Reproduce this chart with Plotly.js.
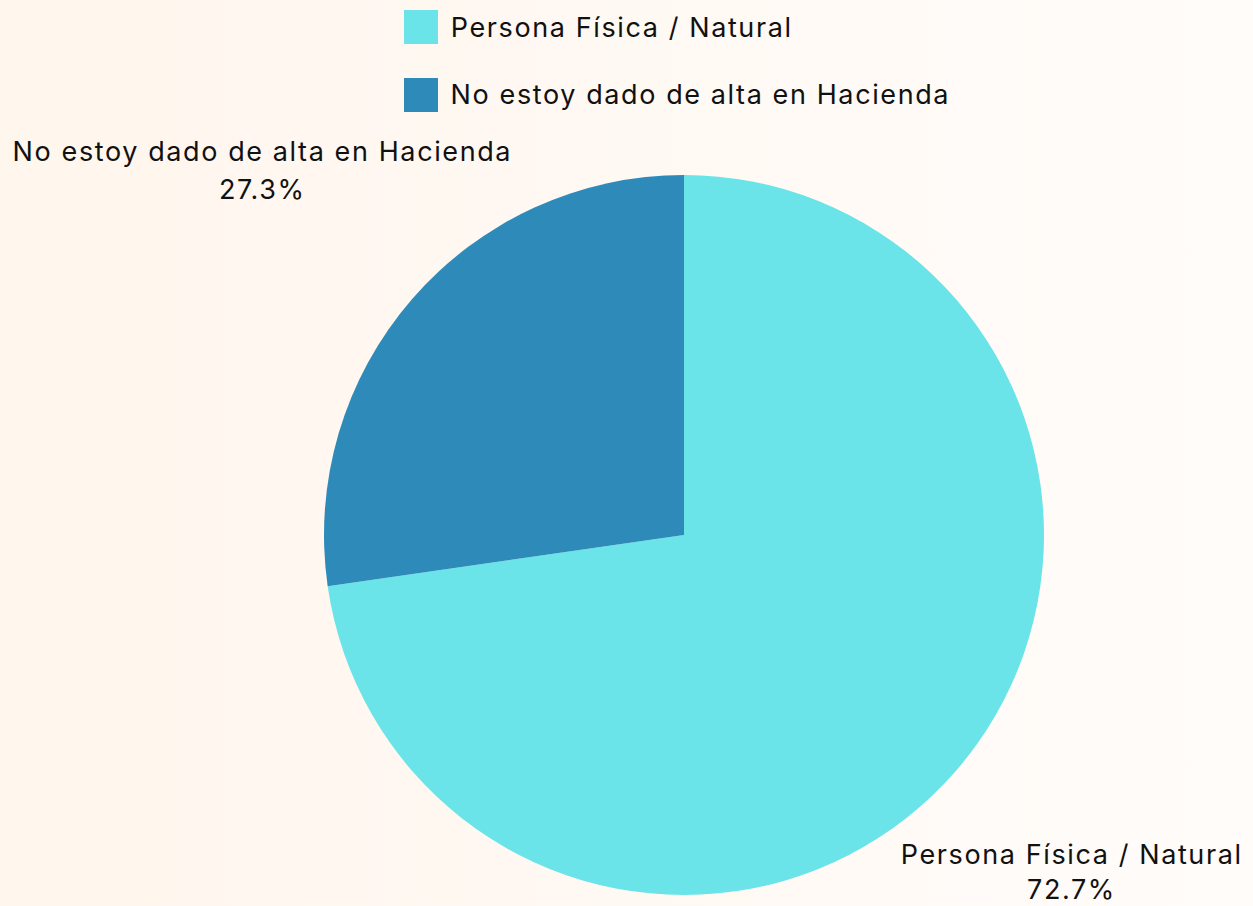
<!DOCTYPE html>
<html>
<head>
<meta charset="utf-8">
<script src="https://cdn.plot.ly/plotly-3.0.1.min.js"></script>
<style>
  html, body { margin: 0; padding: 0; }
  body { width: 1253px; height: 906px; background: linear-gradient(to right, #fff6ed, #fffcfa); }
  #chart { width: 1253px; height: 906px; }
  #chart .annotation-text { letter-spacing: 1.6px; }
</style>
</head>
<body>
<div id="chart"></div>
<script>
const categories = ["Persona Física / Natural", "No estoy dado de alta en Hacienda"];
const counts = [8, 3];
const colors = ["#6ae4e8", "#2e8bb9"];

const W = 1253, H = 906;
const px = x => x / W;
const py = y => 1 - y / H;
const total = counts.reduce((a, b) => a + b, 0);
const pct = counts.map(v => (100 * v / total).toFixed(1) + "%");

const FONT = "Inter, 'Open Sans', sans-serif";
const FS = 27;
const TXT = "#111111";

const trace = {
  type: "pie",
  labels: categories,
  values: counts,
  marker: { colors: colors, line: { width: 0 } },
  sort: false,
  direction: "clockwise",
  rotation: 0,
  textinfo: "none",
  hoverinfo: "label+percent",
  showlegend: false,
  domain: { x: [px(324), px(1044)], y: [py(895), py(175)] }
};

// legend (built from the category / colour arrays)
const legendY = [27, 95];
const legendTextX = [621, 700];
const shapes = categories.map((c, i) => ({
  type: "rect", xref: "paper", yref: "paper",
  x0: px(404), x1: px(438), y0: py(legendY[i] + 17), y1: py(legendY[i] - 17),
  fillcolor: colors[i], line: { width: 0 }
}));
const annotations = categories.map((c, i) => ({
  xref: "paper", yref: "paper", x: px(legendTextX[i]), y: py(legendY[i]),
  xanchor: "center", yanchor: "middle", showarrow: false,
  text: c, font: { family: FONT, size: FS, color: TXT }
}));

// slice labels
const labelPos = [ { x: 1071, y1: 854, y2: 889 }, { x: 262, y1: 152, y2: 190 } ];
categories.forEach((c, i) => {
  annotations.push({
    xref: "paper", yref: "paper", x: px(labelPos[i].x), y: py(labelPos[i].y1),
    xanchor: "center", yanchor: "middle", showarrow: false,
    text: c, font: { family: FONT, size: FS, color: TXT }
  });
  annotations.push({
    xref: "paper", yref: "paper", x: px(labelPos[i].x), y: py(labelPos[i].y2),
    xanchor: "center", yanchor: "middle", showarrow: false,
    text: pct[i], font: { family: FONT, size: FS, color: TXT }
  });
});

const layout = {
  width: W, height: H,
  margin: { l: 0, r: 0, t: 0, b: 0 },
  paper_bgcolor: "rgba(0,0,0,0)",
  plot_bgcolor: "rgba(0,0,0,0)",
  showlegend: false,
  shapes: shapes,
  annotations: annotations
};

Plotly.newPlot("chart", [trace], layout, { displayModeBar: false });
</script>
</body>
</html>
